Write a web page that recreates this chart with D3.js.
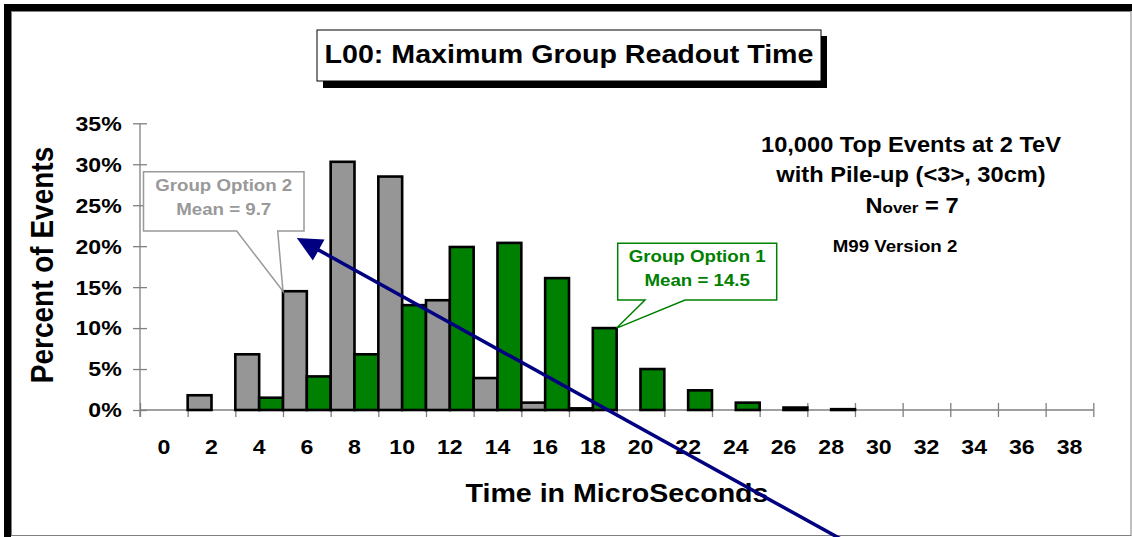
<!DOCTYPE html>
<html>
<head>
<meta charset="utf-8">
<script src="https://cdn.jsdelivr.net/npm/d3@7"></script>
<style>
  html, body { margin: 0; padding: 0; background: #fff; }
  svg { display: block; font-family: "Liberation Sans", Arial, sans-serif; font-weight: bold; }
</style>
</head>
<body>
<svg id="chart" width="1132" height="537"></svg>
<script>
// ---- data ----
const categories = ["0","2","4","6","8","10","12","14","16","18","20","22","24","26","28","30","32","34","36","38"];
const groupOption2 = [0, 1.8, 6.8, 14.5, 30.3, 28.5, 13.4, 3.9, 0.9, 0.2, 0, 0, 0, 0, 0, 0, 0, 0, 0, 0];
const groupOption1 = [0, 0, 1.5, 4.1, 6.8, 12.8, 19.9, 20.4, 16.1, 10.0, 5.0, 2.4, 0.9, 0.3, 0.1, 0, 0, 0, 0, 0];
const yTickValues = [0, 5, 10, 15, 20, 25, 30, 35];
const titleText = "L00: Maximum Group Readout Time";
const xTitle = "Time in MicroSeconds";
const yTitle = "Percent of Events";
const infoLines = ["10,000 Top Events at 2 TeV", "with Pile-up (<3>, 30cm)"];
const versionText = "M99 Version 2";
const callout2 = ["Group Option 2", "Mean = 9.7"];
const callout1 = ["Group Option 1", "Mean = 14.5"];

// ---- layout ----
const SX = 1.1; // horizontal text stretch seen in the reference
const GRAY = "#969696", GREEN = "#008000", AXIS = "#808080", NAVY = "#000080";
const svg = d3.select("#chart");

const plot = { left: 140, right: 1093.3, top: 123.3, bottom: 410 };
const x = d3.scaleBand().domain(categories).range([plot.left, plot.right]).paddingInner(0).paddingOuter(0);
const xEdge = d3.scaleLinear().domain([0, categories.length]).range([plot.left, plot.right]);
const y = d3.scaleLinear().domain([0, 35]).range([plot.bottom, plot.top]);
const bw = x.bandwidth();

function txt(parent, px, py, str, size, opts = {}) {
  const t = parent.append("text")
    .attr("transform", `translate(${px},${py}) scale(${SX},1)` + (opts.rotate ? ` rotate(${opts.rotate})` : ""))
    .attr("font-size", size)
    .attr("text-anchor", opts.anchor || "middle")
    .attr("fill", opts.fill || "#000");
  if (str !== null) t.text(str);
  return t;
}

// ---- frame ----
svg.append("rect").attr("x", 11.5).attr("y", 11.5).attr("width", 1119.5).attr("height", 524)
  .attr("fill", "#fff").attr("stroke", AXIS).attr("stroke-width", 1);
svg.append("rect").attr("x", 4).attr("y", 4).attr("width", 1128).attr("height", 7).attr("fill", "#000");
svg.append("rect").attr("x", 4).attr("y", 4).attr("width", 7).attr("height", 533).attr("fill", "#000");

// ---- title box ----
svg.append("rect").attr("x", 323).attr("y", 36).attr("width", 504).attr("height", 52).attr("fill", "#000");
svg.append("rect").attr("x", 317).attr("y", 30).attr("width", 504).attr("height", 51)
  .attr("fill", "#fff").attr("stroke", "#000").attr("stroke-width", 1);
txt(svg, 569, 62.7, titleText, 26);

// ---- axes ----
const yAxis = svg.append("g").attr("transform", `translate(${plot.left},0)`)
  .call(d3.axisLeft(y).tickValues(yTickValues).tickSize(7).tickFormat(""));
yAxis.select(".domain").remove();
yAxis.selectAll(".tick line").attr("x1", 7).attr("stroke", AXIS).attr("stroke-width", 1.3);
svg.append("line").attr("x1", plot.left).attr("x2", plot.left).attr("y1", plot.top).attr("y2", plot.bottom + 7)
  .attr("stroke", AXIS).attr("stroke-width", 1.3);
yTickValues.forEach(v => txt(svg, 121.7, y(v) + 7.4, v + "%", 21, { anchor: "end" }));

const xAxis = svg.append("g").attr("transform", `translate(0,${plot.bottom})`)
  .call(d3.axisBottom(xEdge).tickValues(d3.range(categories.length + 1)).tickSize(7).tickFormat(""));
xAxis.select(".domain").remove();
xAxis.selectAll(".tick line").attr("y1", -7).attr("stroke", AXIS).attr("stroke-width", 1.3);
svg.append("line").attr("x1", plot.left).attr("x2", plot.right).attr("y1", plot.bottom).attr("y2", plot.bottom)
  .attr("stroke", AXIS).attr("stroke-width", 1.3);
categories.forEach(c => txt(svg, x(c) + bw / 2, 454, c, 21));

txt(svg, 617, 501.7, xTitle, 26);
txt(svg, 53, 265, yTitle, 28, { rotate: -90 });

// ---- bars ----
const barData = [];
categories.forEach((c, i) => {
  if (groupOption2[i] > 0) barData.push({ c, v: groupOption2[i], off: 0, fill: GRAY });
  if (groupOption1[i] > 0) barData.push({ c, v: groupOption1[i], off: bw / 2, fill: GREEN });
});
svg.append("g").selectAll("rect").data(barData).join("rect")
  .attr("x", d => x(d.c) + d.off)
  .attr("y", d => y(d.v))
  .attr("width", bw / 2)
  .attr("height", d => y(0) - y(d.v))
  .attr("fill", d => d.fill)
  .attr("stroke", "#000")
  .attr("stroke-width", 2.6);

// ---- info text ----
txt(svg, 911, 151.7, infoLines[0], 21.5);
txt(svg, 911, 181.7, infoLines[1], 21.5);
const nv = txt(svg, 912, 213.3, null, 21.5);
nv.append("tspan").text("N");
nv.append("tspan").attr("font-size", 15.5).text("over");
nv.append("tspan").text(" = 7");
txt(svg, 895, 252.3, versionText, 17);

// ---- callouts ----
function callout(box, baseA, baseB, tip, stroke, lines, baselines) {
  const p = d3.path();
  p.moveTo(box.x0, box.y0);
  p.lineTo(box.x1, box.y0);
  p.lineTo(box.x1, box.y1);
  p.lineTo(baseB, box.y1);
  p.lineTo(tip[0], tip[1]);
  p.lineTo(baseA, box.y1);
  p.lineTo(box.x0, box.y1);
  p.closePath();
  svg.append("path").attr("d", p.toString()).attr("fill", "#fff")
    .attr("stroke", stroke).attr("stroke-width", 1.5).attr("stroke-linejoin", "miter");
  const cx = (box.x0 + box.x1) / 2;
  lines.forEach((l, i) => txt(svg, cx, baselines[i], l, 17, { fill: stroke }));
}
callout({ x0: 143.5, y0: 171.7, x1: 304, y1: 231 }, 236.7, 277.7,
  [x("6"), y(groupOption2[3])], "#999999", callout2, [190.7, 215]);
callout({ x0: 617.7, y0: 243.3, x1: 776.7, y1: 300 }, 645, 685,
  [x("18") + bw, y(groupOption1[9])], GREEN, callout1, [262.3, 285.7]);

// ---- arrow (in data coordinates) ----
const arrowFrom = [14.75, -15.9];
const arrowTo = [3.29, 21.0];
const fx = xEdge(arrowFrom[0]), fy = y(arrowFrom[1]);
const tx = xEdge(arrowTo[0]), ty = y(arrowTo[1]);
const len = Math.hypot(fx - tx, fy - ty);
const ux = (fx - tx) / len, uy = (fy - ty) / len;
const headL = 25, headW = 12;
const bx = tx + ux * headL, by = ty + uy * headL;
svg.append("line").attr("x1", fx).attr("y1", fy).attr("x2", bx - ux * 2).attr("y2", by - uy * 2)
  .attr("stroke", NAVY).attr("stroke-width", 3.5);
svg.append("path")
  .attr("d", `M${tx},${ty}L${bx - uy * headW},${by + ux * headW}L${bx + uy * headW},${by - ux * headW}Z`)
  .attr("fill", NAVY);
</script>
</body>
</html>
